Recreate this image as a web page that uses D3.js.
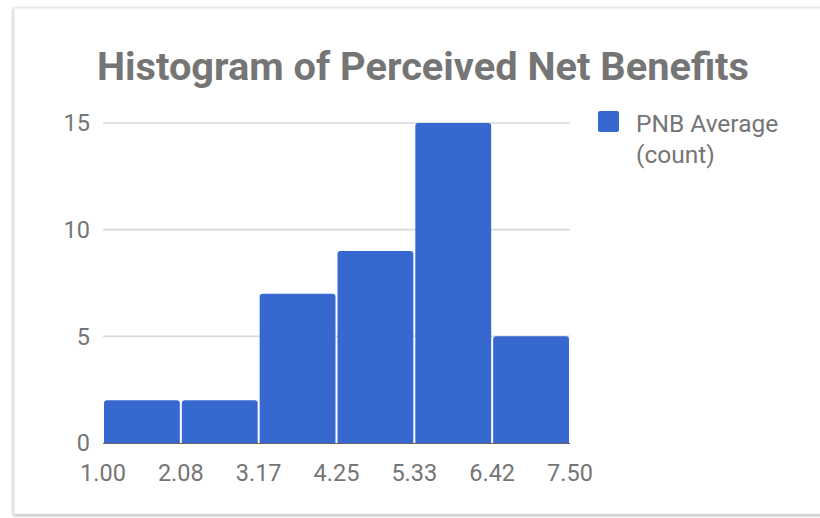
<!DOCTYPE html>
<html>
<head>
<meta charset="utf-8">
<script src="https://cdn.jsdelivr.net/npm/d3@7"></script>
<style>
  html, body { margin: 0; padding: 0; background: #ffffff; }
  svg { display: block; font-family: Roboto, "Noto Sans", sans-serif; }
</style>
</head>
<body>
<svg id="chart" width="820" height="518"></svg>
<script>
// Histogram bins: edges of each bin and the count in it
const binEdges = [1.00, 2.0833, 3.1667, 4.25, 5.3333, 6.4167, 7.50];
const edgeLabels = ["1.00", "2.08", "3.17", "4.25", "5.33", "6.42", "7.50"];
const counts = [2, 2, 7, 9, 15, 5];
const yTicks = [0, 5, 10, 15];
const seriesName = ["PNB Average", "(count)"];
const title = "Histogram of Perceived Net Benefits";

const svg = d3.select("#chart");
const barColor = "#3668cf";
const textColor = "#757575";

// card with soft shadow
const defs = svg.append("defs");
const f = defs.append("filter").attr("id", "shadow")
  .attr("x", "-5%").attr("y", "-5%").attr("width", "110%").attr("height", "110%");
f.append("feDropShadow").attr("dx", 0).attr("dy", 1).attr("stdDeviation", 1.5)
  .attr("flood-color", "#000").attr("flood-opacity", 0.4);

svg.append("rect")
  .attr("x", 14).attr("y", 8).attr("width", 900).attr("height", 506)
  .attr("fill", "#ffffff").attr("stroke", "#e2e2e2").attr("stroke-width", 1)
  .attr("filter", "url(#shadow)");

const x = d3.scaleLinear().domain([binEdges[0], binEdges[binEdges.length - 1]]).range([103, 570]);
const y = d3.scaleLinear().domain([0, 15]).range([443, 123]);

// title, stretched to its set width
svg.append("text")
  .attr("x", 423).attr("y", 80)
  .attr("text-anchor", "middle")
  .attr("font-size", 38).attr("font-weight", 700)
  .attr("fill", textColor)
  .attr("textLength", 652).attr("lengthAdjust", "spacingAndGlyphs")
  .text(title);

// gridlines
svg.append("g").selectAll("line").data(yTicks.filter(d => d > 0)).join("line")
  .attr("x1", x.range()[0]).attr("x2", x.range()[1])
  .attr("y1", d => y(d)).attr("y2", d => y(d))
  .attr("stroke", "#d9d9d9").attr("stroke-width", 1.6);

// baseline
svg.append("line")
  .attr("x1", x.range()[0]).attr("x2", x.range()[1])
  .attr("y1", y(0) + 0.5).attr("y2", y(0) + 0.5)
  .attr("stroke", "#666").attr("stroke-width", 1);

// y tick labels
svg.append("g").selectAll("text").data(yTicks).join("text")
  .attr("x", 90).attr("y", d => y(d))
  .attr("dy", "0.35em")
  .attr("text-anchor", "end")
  .attr("font-size", 23.5).attr("fill", textColor)
  .text(d => d);

// bars with lightly rounded tops
const r = 3;
function barPath(x0, x1, yTop, yBase) {
  return `M${x0},${yBase}V${yTop + r}Q${x0},${yTop} ${x0 + r},${yTop}` +
         `H${x1 - r}Q${x1},${yTop} ${x1},${yTop + r}V${yBase}Z`;
}
svg.append("g").selectAll("path").data(counts).join("path")
  .attr("d", (d, i) => barPath(x(binEdges[i]) + 1, x(binEdges[i + 1]) - 1, y(d), y(0)))
  .attr("fill", barColor);

// x tick labels at bin edges
svg.append("g").selectAll("text").data(binEdges).join("text")
  .attr("x", d => x(d)).attr("y", 481)
  .attr("text-anchor", "middle")
  .attr("font-size", 23.5).attr("fill", textColor)
  .text((d, i) => edgeLabels[i]);

// legend
svg.append("rect")
  .attr("x", 598).attr("y", 111).attr("width", 21).attr("height", 21)
  .attr("rx", 2).attr("fill", barColor);
svg.append("g").selectAll("text").data(seriesName).join("text")
  .attr("x", 636).attr("y", (d, i) => 132 + i * 31)
  .attr("font-size", 24.5).attr("fill", textColor)
  .text(d => d);
</script>
</body>
</html>
